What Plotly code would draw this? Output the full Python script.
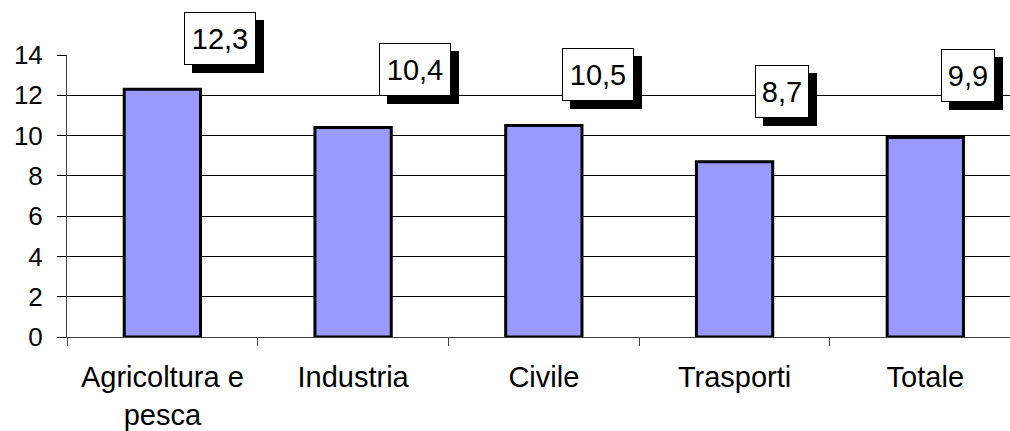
import plotly.graph_objects as go

categories = ["Agricoltura e<br>pesca", "Industria", "Civile", "Trasporti", "Totale"]
values = [12.3, 10.4, 10.5, 8.7, 9.9]
value_labels = ["12,3", "10,4", "10,5", "8,7", "9,9"]
y_ticks = [0, 2, 4, 6, 8, 10, 12, 14]

Y_MAX = 14
# label box placement (offset from bar centre in category units, height in data units)
label_dx = [0.30, 0.325, 0.286, 0.25, 0.225]
label_y = [14.81, 13.28, 13.04, 12.17, 12.96]

FONT = "Liberation Sans, Arial, sans-serif"

fig = go.Figure()
fig.add_trace(go.Bar(
    x=list(range(len(categories))),
    y=values,
    width=0.40,
    marker=dict(color="#9999FF", line=dict(color="#000000", width=3)),
    hoverinfo="skip",
))

annotations = []
for i, (lab, dx, ly) in enumerate(zip(value_labels, label_dx, label_y)):
    box_w = 56 if len(lab) > 3 else 38
    common = dict(x=i + dx, y=ly / Y_MAX, xref="x", yref="paper", showarrow=False,
                  font=dict(family=FONT, size=29, color="#000000"),
                  width=box_w, height=37, align="center", valign="middle",
                  borderpad=7, borderwidth=1, xanchor="center", yanchor="middle")
    # drop shadow box (no text)
    annotations.append(dict(common, text=" ", bgcolor="#000000", bordercolor="#000000",
                            xshift=8, yshift=-8))
    annotations.append(dict(common, text=lab, bgcolor="#FFFFFF", bordercolor="#000000"))

fig.update_layout(
    width=1010, height=431,
    margin=dict(l=67, r=0, t=55, b=92),
    paper_bgcolor="white", plot_bgcolor="white",
    showlegend=False,
    annotations=annotations,
    xaxis=dict(
        range=[-0.5, 4.444],
        tickmode="array", tickvals=list(range(len(categories))), ticktext=categories,
        ticks="", showgrid=False, zeroline=False, showline=False,
        ticklabelstandoff=20,
        tickfont=dict(family=FONT, size=29, color="#000000"),
    ),
    yaxis=dict(
        range=[0, Y_MAX], tickvals=y_ticks, ticktext=[str(t) for t in y_ticks],
        ticks="outside", ticklen=9, tickcolor="#000000", tickwidth=1,
        showgrid=True, gridcolor="#000000", gridwidth=1,
        zeroline=False, showline=True, linecolor="#404040", linewidth=1,
        ticklabelstandoff=9,
        tickfont=dict(family=FONT, size=26, color="#000000"),
    ),
    xaxis2=dict(
        overlaying="x", matches="x", range=[-0.5, 4.444],
        tickmode="array", tickvals=[-0.5, 0.5, 1.5, 2.5, 3.5], ticktext=[""] * 5,
        ticks="outside", ticklen=8, tickcolor="#404040", tickwidth=1,
        showgrid=False, zeroline=False, showline=True, linecolor="#404040", linewidth=1,
        side="bottom", anchor="y",
    ),
)
fig.add_trace(go.Scatter(x=[None], y=[None], xaxis="x2", yaxis="y", showlegend=False))

fig.write_html("out.html", config={"displayModeBar": False},
               post_script="document.body.style.margin='0';")
